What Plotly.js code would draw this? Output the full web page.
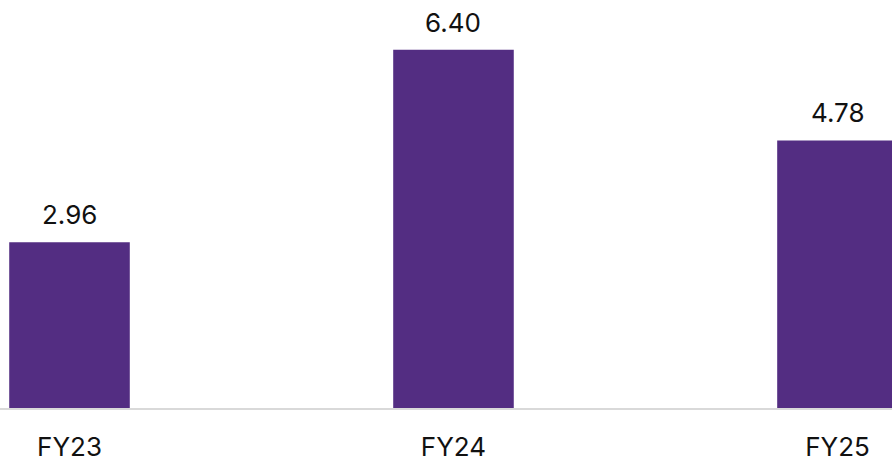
<!DOCTYPE html>
<html>
<head>
<meta charset="utf-8">
<script src="https://cdn.plot.ly/plotly-3.0.1.min.js"></script>
<style>html,body{margin:0;padding:0;background:#fff;}#chart{width:892px;height:464px;}</style>
</head>
<body>
<div id="chart"></div>
<script>
const categories = ["FY23", "FY24", "FY25"];
const values = [2.96, 6.40, 4.78];
const valueLabels = ["2.96", "6.40", "4.78"];

const FONT = "Inter, 'Open Sans', sans-serif";
const trace = {
  type: "bar",
  x: categories,
  y: values,
  marker: {color: "#532d82"},
  hoverinfo: "none"
};
const annotations = categories.map((c, i) => ({
  x: c, y: values[i], text: valueLabels[i],
  xref: "x", yref: "y", showarrow: false,
  yanchor: "bottom", yshift: 10,
  font: {family: FONT, size: 26, color: "#111"}
}));
const layout = {
  width: 892, height: 464,
  margin: {l: 0, r: 0, t: 0, b: 56, pad: 0},
  paper_bgcolor: "#fff", plot_bgcolor: "#fff",
  bargap: 0.686,
  showlegend: false,
  xaxis: {
    type: "category",
    range: [-0.181, 2.142],
    showgrid: false, zeroline: false,
    showline: true, linecolor: "#d9d9d9", linewidth: 2,
    ticks: "outside", ticklen: 15, tickcolor: "rgba(0,0,0,0)",
    tickfont: {family: FONT, size: 26, color: "#111"}
  },
  yaxis: {
    range: [0, 7.29],
    visible: false, showgrid: false, zeroline: false
  },
  annotations: annotations
};
Plotly.newPlot("chart", [trace], layout, {staticPlot: true, displayModeBar: false});
</script>
</body>
</html>
